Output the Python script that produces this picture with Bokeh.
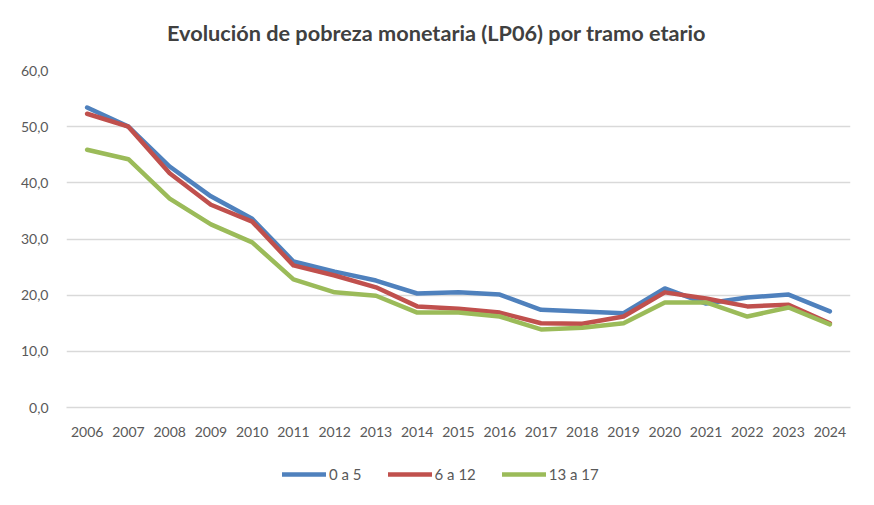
from bokeh.plotting import figure
from bokeh.layouts import column
from bokeh.models import FixedTicker, Legend, LegendItem, Label
from bokeh.embed import file_html
from bokeh.resources import INLINE

years = list(range(2006, 2025))
s_0a5 = [53.4, 50.0, 42.9, 37.6, 33.6, 26.0, 24.2, 22.6, 20.3, 20.5, 20.1, 17.4, 17.1, 16.8, 21.2, 18.5, 19.6, 20.1, 17.1]
s_6a12 = [52.3, 50.0, 41.7, 36.1, 33.1, 25.3, 23.5, 21.4, 18.0, 17.6, 16.9, 15.0, 14.9, 16.2, 20.5, 19.4, 18.0, 18.3, 15.0]
s_13a17 = [45.9, 44.2, 37.2, 32.6, 29.4, 22.8, 20.5, 19.9, 16.9, 16.9, 16.2, 13.9, 14.2, 15.0, 18.7, 18.7, 16.2, 17.8, 14.8]
series_names = ["0 a 5", "6 a 12", "13 a 17"]
colors = ["#4F81BD", "#C0504D", "#9BBB59"]
y_ticks = [0, 10, 20, 30, 40, 50, 60]
all_series = [s_0a5, s_6a12, s_13a17]
title_text = "Evolución de pobreza monetaria (LP06) por tramo etario"

FONT = "Lato"
TXT = "#595959"


def strip(height):
    f = figure(width=858, height=height, x_range=(0, 1), y_range=(0, 1),
               output_backend="svg", toolbar_location=None,
               min_border=0, min_border_left=0, min_border_right=0,
               min_border_top=0, min_border_bottom=0)
    f.axis.visible = False
    f.grid.visible = False
    f.outline_line_color = None
    f.border_fill_color = "white"
    f.background_fill_color = "white"
    return f


# title strip
tf = strip(50)
tf.add_layout(Label(x=370, y=18, x_units="screen", y_units="screen", text=title_text,
                    text_align="center", text_baseline="middle", text_font=FONT,
                    text_font_size="21.7px", text_font_style="bold", text_color="#404040"))

# main chart
fig = figure(width=858, height=395, x_range=(2005.5, 2024.5), y_range=(0, 60),
             output_backend="svg", toolbar_location=None,
             min_border_left=66, min_border_right=8, min_border_top=20, min_border_bottom=38)
fig.outline_line_color = None
fig.border_fill_color = "white"
fig.background_fill_color = "white"

for vals, c in zip(all_series, colors):
    fig.line(years, vals, line_color=c, line_width=4.5, line_join="round", line_cap="round")

fig.xaxis.ticker = FixedTicker(ticks=years)
fig.xaxis.major_tick_line_color = None
fig.xaxis.minor_tick_line_color = None
fig.xaxis.major_tick_out = 0
fig.xaxis.axis_line_color = "#D9D9D9"
fig.xaxis.axis_line_width = 1.5
fig.xaxis.major_label_text_font = FONT
fig.xaxis.major_label_text_font_size = "14px"
fig.xaxis.major_label_text_color = TXT
fig.xaxis.major_label_standoff = 19

fig.yaxis.ticker = FixedTicker(ticks=y_ticks)
fig.yaxis.major_label_overrides = {t: f"{t:.1f}".replace(".", ",") for t in y_ticks}
fig.yaxis.major_tick_line_color = None
fig.yaxis.minor_tick_line_color = None
fig.yaxis.major_tick_out = 0
fig.yaxis.axis_line_color = None
fig.yaxis.major_label_text_font = FONT
fig.yaxis.major_label_text_font_size = "14px"
fig.yaxis.major_label_text_color = TXT
fig.yaxis.major_label_standoff = 18

fig.xgrid.grid_line_color = None
fig.ygrid.grid_line_color = "#D9D9D9"
fig.ygrid.grid_line_width = 1.5

# legend strip below the chart (series drawn outside its visible range, only the legend shows)
lf = strip(44)
items = []
for n, vals, c in zip(series_names, all_series, colors):
    r = lf.line(years, vals, line_color=c, line_width=4.5, line_cap="round")
    items.append(LegendItem(label=n, renderers=[r]))

legend = Legend(items=items, orientation="horizontal", location=(216, 6))
legend.border_line_color = None
legend.background_fill_alpha = 0
legend.label_text_font = FONT
legend.label_text_font_size = "15px"
legend.label_text_color = TXT
legend.glyph_width = 44
legend.glyph_height = 18
legend.label_height = 18
legend.spacing = 26
legend.label_standoff = 3
legend.margin = 0
legend.padding = 0
lf.add_layout(legend)

p = column(tf, fig, lf, spacing=0)

open("out.html", "w").write(file_html(p, INLINE))
